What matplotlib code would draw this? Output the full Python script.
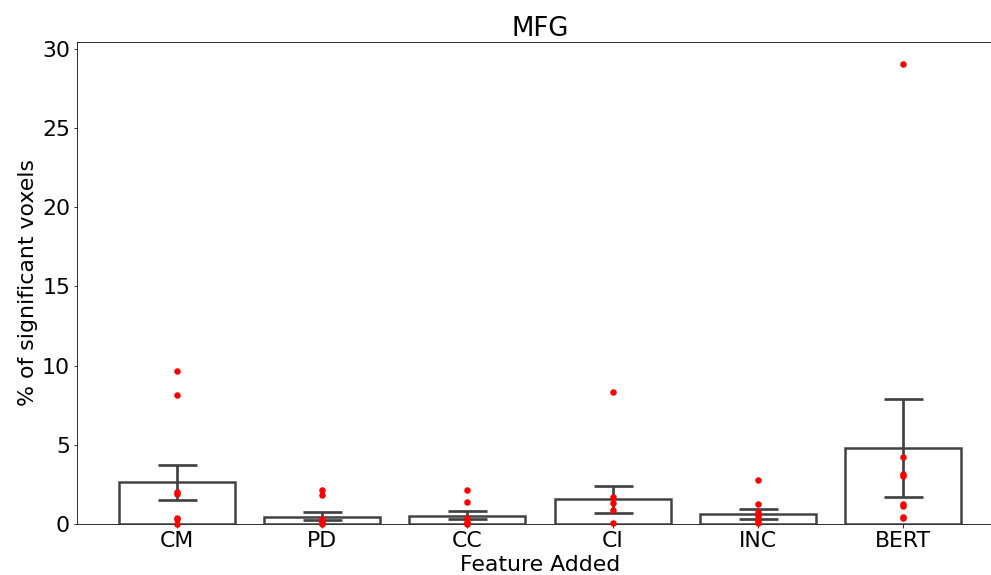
import numpy as np
import matplotlib
matplotlib.use('Agg')
import matplotlib.pyplot as plt

# feature groups and the per-subject % of significant voxels
features = ['CM', 'PD', 'CC', 'CI', 'INC', 'BERT']
pts_CM = [9.66, 8.12, 2.05, 1.9, 0.36, 0.3, 0.0]
pts_PD = [2.15, 1.84, 0.34, 0.15, 0.05, 0.0]
pts_CC = [2.17, 1.41, 0.4, 0.15, 0.05, 0.0]
pts_CI = [8.33, 1.73, 1.35, 0.89, 0.04]
pts_INC = [2.78, 1.27, 0.78, 0.5, 0.2, 0.05]
pts_BERT = [29.05, 4.2, 3.16, 3.0, 1.27, 1.16, 0.42, 0.38]

# bar heights (mean) and error bar ends
mean_pct = [2.64, 0.46, 0.53, 1.56, 0.61, 4.79]
ci_low = [1.54, 0.23, 0.30, 0.68, 0.30, 1.69]
ci_high = [3.71, 0.78, 0.84, 2.43, 0.93, 7.91]

points = [pts_CM, pts_PD, pts_CC, pts_CI, pts_INC, pts_BERT]

plt.rcParams.update({'font.size': 22})
fig = plt.figure(figsize=(991/72, 575/72), dpi=72)
ax = fig.add_axes([77/991, 51/575, 926/991, 482/575])

x = np.arange(len(features))
grey = (0.26, 0.26, 0.26)
ax.bar(x, mean_pct, width=0.8, color='white', edgecolor=grey, linewidth=2.5, zorder=2)

err = [np.array(mean_pct) - np.array(ci_low), np.array(ci_high) - np.array(mean_pct)]
ax.errorbar(x, mean_pct, yerr=err, fmt='none', ecolor=grey, elinewidth=2.7,
            capsize=19.5, capthick=2.7, zorder=3)

for i in range(len(points)):
    ax.plot([x[i]]*len(points[i]), points[i], 'o', color='red', markersize=6.5,
            markeredgewidth=0, zorder=4, clip_on=False)

ax.set_xticks(x)
ax.set_xticklabels(features)
ax.set_xlim(-0.69, 5.69)
ax.set_ylim(0, 30.44)
ax.set_yticks([0, 5, 10, 15, 20, 25, 30])
ax.set_xlabel('Feature Added')
ax.set_ylabel('% of significant voxels')
ax.set_title('MFG', fontsize=26)

plt.savefig('out.png', dpi=72)
